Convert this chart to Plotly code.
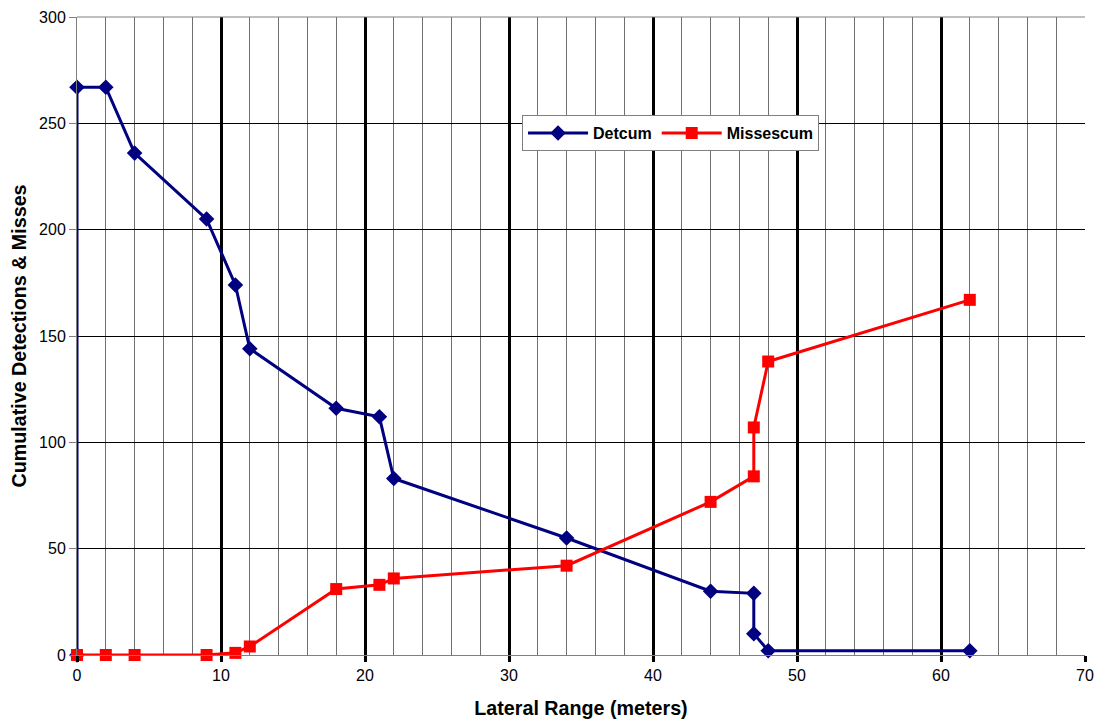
import plotly.graph_objects as go

det_x = [0, 0, 2, 4, 9, 11, 12, 18, 21, 22, 34, 44, 47, 47, 48, 62]
det_y = [0, 267, 267, 236, 205, 174, 144, 116, 112, 83, 55, 30, 29, 10, 2, 2]
miss_x = [0, 2, 4, 9, 11, 12, 18, 21, 22, 34, 44, 47, 47, 48, 62]
miss_y = [0, 0, 0, 0, 1, 4, 31, 33, 36, 42, 72, 84, 107, 138, 167]

FONT = "Liberation Sans, Arial, sans-serif"

fig = go.Figure()
fig.add_trace(go.Scatter(
    x=det_x, y=det_y, name="Detcum", mode="lines+markers",
    line=dict(color="#000080", width=3),
    marker=dict(symbol="diamond", size=12, color="#000080"),
    cliponaxis=False,
))
fig.add_trace(go.Scatter(
    x=miss_x, y=miss_y, name="Missescum", mode="lines+markers",
    line=dict(color="#FF0000", width=3),
    marker=dict(symbol="square", size=12, color="#FF0000"),
    cliponaxis=False,
))

fig.update_layout(
    width=1102, height=724,
    margin=dict(l=69, r=25, t=9, b=77),
    paper_bgcolor="white", plot_bgcolor="white",
    font=dict(family=FONT, size=16, color="black"),
    legend=dict(
        orientation="h", x=0.4415, y=0.818, xanchor="left", yanchor="middle",
        bgcolor="white", bordercolor="#808080", borderwidth=1,
        font=dict(family=FONT, size=16, color="black", weight="bold"),
        itemwidth=60,
    ),
    xaxis=dict(
        range=[0, 70], dtick=10, tick0=0, automargin=False,
        showgrid=True, gridcolor="black", gridwidth=3,
        zeroline=False,
        showline=True, linecolor="#808080", linewidth=1,
        ticks="outside", ticklen=6, tickcolor="black", tickwidth=3,
        tickfont=dict(family=FONT, size=16),
        minor=dict(dtick=2, showgrid=True, gridcolor="#707070", gridwidth=1),
        title=dict(text="<b>Lateral Range (meters)</b>", font=dict(family=FONT, size=19.7), standoff=18),
    ),
    yaxis=dict(
        range=[0, 300], dtick=50, tick0=0, automargin=False,
        showgrid=True, gridcolor="black", gridwidth=1,
        zeroline=False,
        showline=True, linecolor="#808080", linewidth=1,
        ticks="outside", ticklen=7, tickcolor="#808080",
        tickfont=dict(family=FONT, size=16),
        title=dict(text="<b>Cumulative Detections & Misses</b>", font=dict(family=FONT, size=19.7), standoff=10),
    ),
)
fig.add_shape(type="line", xref="paper", yref="paper", x0=0, x1=1, y0=1, y1=1,
              line=dict(color="#808080", width=1))

fig.write_html("out.html")
